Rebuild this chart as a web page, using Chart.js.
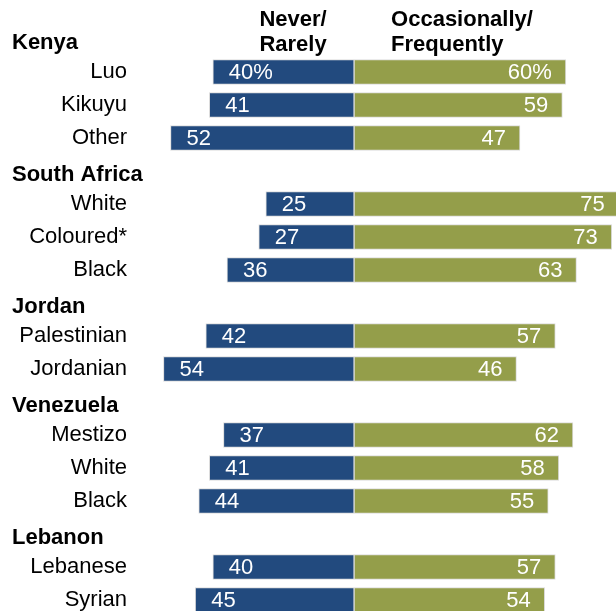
<!DOCTYPE html>
<html lang="en">
<head>
    <meta charset="UTF-8">
    <title>Never/Rarely vs Occasionally/Frequently</title>
    <style>
        body {
            margin: 0;
            background: #fff;
        }
        #wrap {
            width: 616px;
            height: 611px;
            position: relative;
        }
    </style>
    <script src="https://cdn.jsdelivr.net/npm/chart.js"></script>
</head>
<body>
<div id="wrap">
    <canvas id="myChart"></canvas>
</div>
<script>
    // groups and their sub-populations
    const countries = ['Kenya', 'South Africa', 'Jordan', 'Venezuela', 'Lebanon'];
    const groups = [
        ['Luo', 'Kikuyu', 'Other'],
        ['White', 'Coloured*', 'Black'],
        ['Palestinian', 'Jordanian'],
        ['Mestizo', 'White', 'Black'],
        ['Lebanese', 'Syrian']
    ];
    const neverRarely = [
        [40, 41, 52],
        [25, 27, 36],
        [42, 54],
        [37, 41, 44],
        [40, 45]
    ];
    const occasionally = [
        [60, 59, 47],
        [75, 73, 63],
        [57, 46],
        [62, 58, 55],
        [57, 54]
    ];
    const colTitles = [['Never/', 'Rarely'], ['Occasionally/', 'Frequently']];

    const BLUE = '#224a7e';
    const GREEN = '#949e4a';
    const FONT = '"Liberation Sans", Arial, sans-serif';

    // flatten: one header row per country, then its rows
    let labels = [], isHeader = [], leftVals = [], rightVals = [];
    countries.forEach(function (c, g) {
        labels.push(c); isHeader.push(true); leftVals.push(null); rightVals.push(null);
        groups[g].forEach(function (name, i) {
            labels.push(name);
            isHeader.push(false);
            leftVals.push(-neverRarely[g][i]);
            rightVals.push(occasionally[g][i]);
        });
    });

    const textPlugin = {
        id: 'textPlugin',
        afterDatasetsDraw(chart) {
            const ctx = chart.ctx;
            const y = chart.scales.y;
            const x0 = chart.scales.x.getPixelForValue(0);
            ctx.save();
            ctx.textBaseline = 'middle';

            // row and group labels
            labels.forEach(function (lab, i) {
                const py = y.getPixelForValue(i);
                ctx.fillStyle = '#000';
                if (isHeader[i]) {
                    ctx.font = 'bold 22px ' + FONT;
                    ctx.textAlign = 'left';
                    ctx.fillText(lab, 12, py + 4);
                } else {
                    ctx.font = '22px ' + FONT;
                    ctx.textAlign = 'right';
                    ctx.fillText(lab, 127, py);
                }
            });

            // column titles
            ctx.font = 'bold 22px ' + FONT;
            ctx.fillStyle = '#000';
            ctx.textAlign = 'center';
            ctx.fillText(colTitles[0][0], x0 - 61, 20);
            ctx.fillText(colTitles[0][1], x0 - 61, 45);
            ctx.textAlign = 'left';
            ctx.fillText(colTitles[1][0], x0 + 37, 20);
            ctx.fillText(colTitles[1][1], x0 + 37, 45);

            // values inside bars
            ctx.font = '22px ' + FONT;
            ctx.fillStyle = '#fff';
            let first = true;
            chart.getDatasetMeta(0).data.forEach(function (bar, i) {
                if (isHeader[i]) return;
                const v = Math.abs(leftVals[i]);
                ctx.textAlign = 'left';
                ctx.fillText(v + (first ? '%' : ''), bar.x + 16, bar.y + 1);
                first = false;
            });
            first = true;
            chart.getDatasetMeta(1).data.forEach(function (bar, i) {
                if (isHeader[i]) return;
                ctx.textAlign = 'right';
                ctx.fillText(rightVals[i] + (first ? '%' : ''), bar.x - 14, bar.y + 1);
                first = false;
            });
            ctx.restore();
        }
    };

    let ctx = document.getElementById('myChart').getContext('2d');
    let myChart = new Chart(ctx, {
        type: 'bar',
        data: {
            labels: labels,
            datasets: [{
                label: 'Never/Rarely',
                data: leftVals,
                backgroundColor: BLUE,
                borderColor: '#dcdcdc',
                borderWidth: 1,
                borderSkipped: false,
                barThickness: 25,
                clip: false
            }, {
                label: 'Occasionally/Frequently',
                data: rightVals,
                backgroundColor: GREEN,
                borderColor: '#dcdcdc',
                borderWidth: 1,
                borderSkipped: false,
                barThickness: 25,
                clip: false
            }]
        },
        options: {
            indexAxis: 'y',
            responsive: true,
            maintainAspectRatio: false,
            animation: false,
            layout: {
                padding: {left: 0, right: 0, top: 39, bottom: 11}
            },
            scales: {
                x: {
                    stacked: true,
                    display: false,
                    min: -100.3,
                    max: 74.2
                },
                y: {
                    stacked: true,
                    display: false,
                    offset: false
                }
            },
            plugins: {
                legend: {display: false},
                tooltip: {enabled: false}
            }
        },
        plugins: [textPlugin]
    });
</script>
</body>
</html>
